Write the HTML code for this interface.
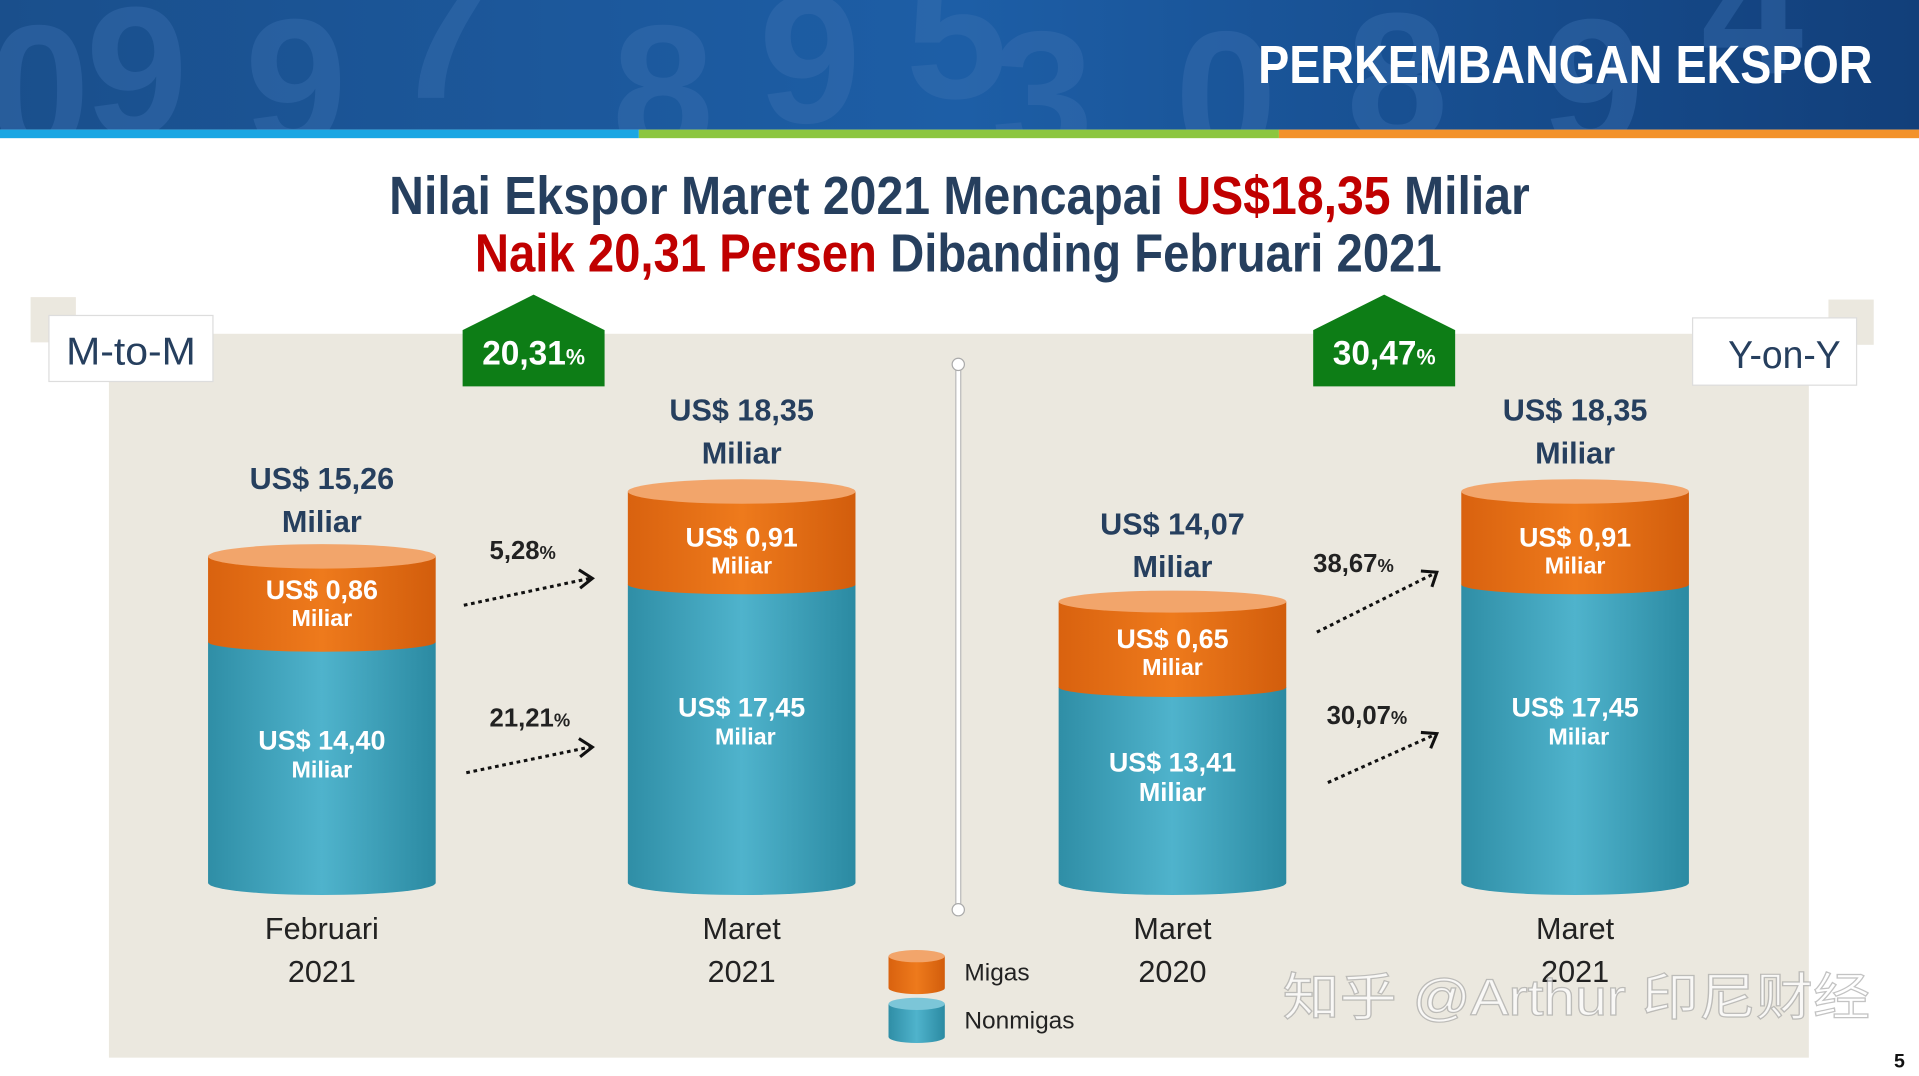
<!DOCTYPE html>
<html><head><meta charset="utf-8"><style>
html,body{margin:0;padding:0;background:#fff;overflow:hidden}
svg{display:block}
text{font-family:"Liberation Sans",sans-serif}
</style></head><body>
<svg width="1919" height="1076" viewBox="0 0 1568 880" preserveAspectRatio="none" xmlns="http://www.w3.org/2000/svg">
<defs>
<linearGradient id="hd" x1="0" y1="0" x2="1" y2="0"><stop offset="0" stop-color="#1a4f8c"/><stop offset="0.5" stop-color="#1d5ea6"/><stop offset="1" stop-color="#123f7a"/></linearGradient>
<linearGradient id="tl" x1="0" y1="0" x2="1" y2="0"><stop offset="0" stop-color="#2f8ea6"/><stop offset="0.5" stop-color="#4fb3cc"/><stop offset="1" stop-color="#2b8aa2"/></linearGradient>
<linearGradient id="or" x1="0" y1="0" x2="1" y2="0"><stop offset="0" stop-color="#d9620f"/><stop offset="0.5" stop-color="#ee7a1c"/><stop offset="1" stop-color="#d25d0c"/></linearGradient>
<clipPath id="hc"><rect x="0" y="0" width="1568" height="106"/></clipPath>
</defs>
<rect x="0" y="0" width="1568" height="106" fill="url(#hd)"/>
<g fill="#3d72b3" opacity="0.4" font-weight="bold" font-size="150" clip-path="url(#hc)">
<text x="-10" y="125">0</text><text x="70" y="110">9</text><text x="200" y="120">9</text><text x="320" y="80">7</text><text x="500" y="125">8</text><text x="620" y="100">9</text><text x="740" y="80">5</text><text x="810" y="130">3</text><text x="960" y="130">0</text><text x="1100" y="115">8</text><text x="1260" y="120">9</text><text x="1390" y="60">4</text>
</g>
<text x="1530" y="68" text-anchor="end" fill="#fff" font-size="44" font-weight="bold" textLength="502" lengthAdjust="spacingAndGlyphs">PERKEMBANGAN EKSPOR</text>
<rect x="0" y="106" width="522" height="7" fill="#1aa6e3"/>
<rect x="522" y="106" width="523" height="7" fill="#8cc63f"/>
<rect x="1045" y="106" width="523" height="7" fill="#f3922b"/>

<text x="318" y="175" font-size="44" font-weight="bold" fill="#263f5e" textLength="932" lengthAdjust="spacingAndGlyphs">Nilai Ekspor Maret 2021 Mencapai <tspan fill="#c00000">US$18,35</tspan> Miliar</text>
<text x="388" y="222" font-size="44" font-weight="bold" fill="#263f5e" textLength="790" lengthAdjust="spacingAndGlyphs"><tspan fill="#c00000">Naik 20,31 Persen</tspan> Dibanding Februari 2021</text>

<rect x="25" y="243" width="37" height="37" fill="#ebe8df"/>
<rect x="1494" y="245" width="37" height="37" fill="#ebe8df"/>
<rect x="89" y="273" width="1389" height="592" fill="#ebe8df"/>
<rect x="40" y="258" width="134" height="54" fill="#fff" stroke="#ddd"/>
<text x="107" y="298" text-anchor="middle" font-size="32" fill="#263f5e" textLength="106" lengthAdjust="spacingAndGlyphs">M-to-M</text>
<rect x="1383" y="260" width="134" height="55" fill="#fff" stroke="#ddd"/>
<text x="1458" y="301" text-anchor="middle" font-size="32" fill="#263f5e" textLength="92" lengthAdjust="spacingAndGlyphs">Y-on-Y</text>

<polygon points="378,270 436,241 494,270 494,316 378,316" fill="#0d7d16"/>
<text x="436" y="298" text-anchor="middle" font-size="28" font-weight="bold" fill="#fff" textLength="84" lengthAdjust="spacingAndGlyphs">20,31<tspan font-size="18">%</tspan></text>
<polygon points="1073,270 1131,241 1189,270 1189,316 1073,316" fill="#0d7d16"/>
<text x="1131" y="298" text-anchor="middle" font-size="28" font-weight="bold" fill="#fff" textLength="84" lengthAdjust="spacingAndGlyphs">30,47<tspan font-size="18">%</tspan></text>

<line x1="783" y1="298" x2="783" y2="744" stroke="#bbb" stroke-width="5"/>
<line x1="783" y1="298" x2="783" y2="744" stroke="#fff" stroke-width="3"/>
<circle cx="783" cy="298" r="5" fill="#fff" stroke="#aaa"/><circle cx="783" cy="744" r="5" fill="#fff" stroke="#aaa"/>

<g>
<path d="M170,525 L170,722 A93,10 0 0 0 356,722 L356,525 Z" fill="url(#tl)"/>
<path d="M170,455 L170,525 A93,8 0 0 0 356,525 L356,455 Z" fill="url(#or)"/>
<ellipse cx="263" cy="455" rx="93" ry="10" fill="#f2a56b"/>
<path d="M513,478 L513,722 A93,10 0 0 0 699,722 L699,478 Z" fill="url(#tl)"/>
<path d="M513,402 L513,478 A93,8 0 0 0 699,478 L699,402 Z" fill="url(#or)"/>
<ellipse cx="606" cy="402" rx="93" ry="10" fill="#f2a56b"/>
<path d="M865,562 L865,722 A93,10 0 0 0 1051,722 L1051,562 Z" fill="url(#tl)"/>
<path d="M865,492 L865,562 A93,8 0 0 0 1051,562 L1051,492 Z" fill="url(#or)"/>
<ellipse cx="958" cy="492" rx="93" ry="9" fill="#f2a56b"/>
<path d="M1194,478 L1194,722 A93,10 0 0 0 1380,722 L1380,478 Z" fill="url(#tl)"/>
<path d="M1194,402 L1194,478 A93,8 0 0 0 1380,478 L1380,402 Z" fill="url(#or)"/>
<ellipse cx="1287" cy="402" rx="93" ry="10" fill="#f2a56b"/>
</g>

<g font-weight="bold" fill="#fff" text-anchor="middle" font-size="22">
<text x="263" y="490">US$ 0,86</text><text x="263" y="512" font-size="19">Miliar</text>
<text x="263" y="613">US$ 14,40</text><text x="263" y="636" font-size="19">Miliar</text>
<text x="606" y="447">US$ 0,91</text><text x="606" y="469" font-size="19">Miliar</text>
<text x="606" y="586">US$ 17,45</text><text x="609" y="609" font-size="19">Miliar</text>
<text x="958" y="530">US$ 0,65</text><text x="958" y="552" font-size="19">Miliar</text>
<text x="958" y="631">US$ 13,41</text><text x="958" y="655" font-size="21">Miliar</text>
<text x="1287" y="447">US$ 0,91</text><text x="1287" y="469" font-size="19">Miliar</text>
<text x="1287" y="586">US$ 17,45</text><text x="1290" y="609" font-size="19">Miliar</text>
</g>
<g font-weight="bold" fill="#263f5e" text-anchor="middle" font-size="25">
<text x="263" y="400">US$ 15,26</text><text x="263" y="435">Miliar</text>
<text x="606" y="344">US$ 18,35</text><text x="606" y="379">Miliar</text>
<text x="958" y="437">US$ 14,07</text><text x="958" y="472">Miliar</text>
<text x="1287" y="344">US$ 18,35</text><text x="1287" y="379">Miliar</text>
</g>
<g fill="#222" text-anchor="middle" font-size="25">
<text x="263" y="768">Februari</text><text x="263" y="803">2021</text>
<text x="606" y="768">Maret</text><text x="606" y="803">2021</text>
<text x="958" y="768">Maret</text><text x="958" y="803">2020</text>
<text x="1287" y="768">Maret</text><text x="1287" y="803">2021</text>
</g>
<g font-weight="bold" fill="#222" font-size="21">
<text x="400" y="457">5,28<tspan font-size="15">%</tspan></text>
<text x="400" y="594">21,21<tspan font-size="15">%</tspan></text>
<text x="1073" y="468">38,67<tspan font-size="15">%</tspan></text>
<text x="1084" y="592">30,07<tspan font-size="15">%</tspan></text>
</g>
<g stroke="#111" stroke-width="2.5" fill="none" stroke-dasharray="3,3">
<line x1="379" y1="495" x2="482" y2="473"/>
<line x1="381" y1="632" x2="482" y2="611"/>
<line x1="1076" y1="517" x2="1172" y2="469"/>
<line x1="1085" y1="640" x2="1172" y2="601"/>
</g>
<g stroke="#111" stroke-width="2.5" fill="none">
<polyline points="473,466 484,473 474,481"/>
<polyline points="473,604 484,611 474,619"/>
<polyline points="1161,467 1174,468 1170,480"/>
<polyline points="1161,599 1174,600 1169,612"/>
</g>

<path d="M726,782 L726,808 A23,5 0 0 0 772,808 L772,782 Z" fill="url(#or)"/>
<ellipse cx="749" cy="782" rx="23" ry="5" fill="#f2a56b"/>
<path d="M726,821 L726,848 A23,5 0 0 0 772,848 L772,821 Z" fill="url(#tl)"/>
<ellipse cx="749" cy="821" rx="23" ry="5" fill="#7cc6d8"/>
<text x="788" y="802" font-size="20" fill="#222">Migas</text>
<text x="788" y="841" font-size="20" fill="#222">Nonmigas</text>

<text x="1048" y="830" font-size="42" fill="#ffffff" fill-opacity="0.7" stroke="#888" stroke-opacity="0.5" stroke-width="1" textLength="480" lengthAdjust="spacingAndGlyphs" font-family="'Liberation Sans','Noto Sans CJK SC',sans-serif">知乎 @Arthur 印尼财经</text>
<text x="1552" y="873" font-size="16" font-weight="bold" fill="#111" text-anchor="middle">5</text>
</svg>
</body></html>
